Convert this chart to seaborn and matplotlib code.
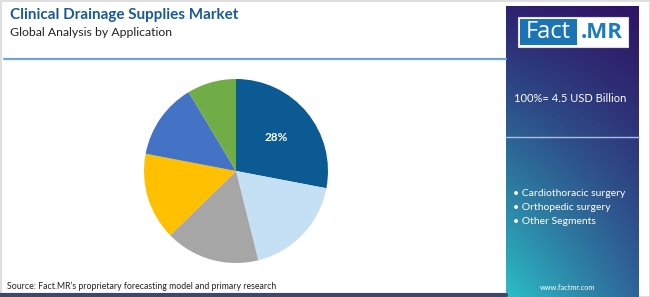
import numpy as np
import matplotlib
matplotlib.use("Agg")
import matplotlib.pyplot as plt
import seaborn as sns
from matplotlib.patches import Rectangle
from matplotlib.lines import Line2D

# ---- data ----
segments = ["Cardiothoracic surgery", "Orthopedic surgery", "Other Segments",
            "Segment D", "Segment E", "Segment F"]
shares = [28.0, 18.1, 16.6, 15.3, 13.4, 8.6]
slice_colors = ["#0b5a94", "#c5e0f4", "#a6a6a6", "#ffc000", "#4472c4", "#70ad47"]
legend_items = ["Cardiothoracic surgery", "Orthopedic surgery", "Other Segments"]
shown_labels = ["28%", "", "", "", "", ""]
title = "Clinical Drainage Supplies Market"
subtitle = "Global Analysis by Application"
market_size = "100%= 4.5 USD Billion"
source = "Source: Fact.MR\u2019s proprietary forecasting model and primary research"

sns.set_theme(style="white")
plt.rcParams["font.family"] = ["Lato", "DejaVu Sans"]

W, H = 650, 297
fig = plt.figure(figsize=(W / 100, H / 100), dpi=100)
fig.patch.set_facecolor("white")

def fx(x):
    return x / W

def fy(y):
    return 1 - y / H

# background overlay axes
bg = fig.add_axes([0, 0, 1, 1])
bg.set_xlim(0, W)
bg.set_ylim(H, 0)
bg.axis("off")

# figure border
bg.add_patch(Rectangle((0.5, 0.5), W - 1, H - 1, fill=False, ec="#d9d9d9", lw=1.2))

# gradient right panel
px0, px1, py0, py1 = 506, 639, 6, 297
c = lambda h: np.array(matplotlib.colors.to_rgb(h))
TL, TR, BL, BR = c("#2e2271"), c("#2f1464"), c("#2bbfc6"), c("#2f6499")
ny, nx = 200, 100
t = np.linspace(0, 1, ny)[:, None, None]
s = np.linspace(0, 1, nx)[None, :, None]
t2 = t ** 1.1
grad = (1 - t2) * ((1 - s) * TL + s * TR) + t2 * ((1 - s) * BL + s * BR)
bg.imshow(grad, extent=(px0, px1, py1, py0), aspect="auto", zorder=1)
bg.set_xlim(0, W)
bg.set_ylim(H, 0)

# header + footer lines
bg.add_line(Line2D([4, 506], [59, 59], color="#6aa6d8", lw=1.6, zorder=2))
bg.add_line(Line2D([0, 506], [294.5, 294.5], color="#3b4a66", lw=3, zorder=2))
bg.add_line(Line2D([506, 639], [137, 137], color="#a9bde6", lw=1.0, zorder=3))

# logo
bg.add_patch(Rectangle((518, 17), 110, 30, fc="white", ec="#dddddd", lw=0.8, zorder=3))
bg.add_patch(Rectangle((520, 19), 57, 26, fc="#1b75b5", ec="none", zorder=4))
bg.text(548.5, 32.5, "Fact", color="white", fontsize=17, ha="center", va="center",
        family=["Open Sans", "DejaVu Sans"], zorder=5)
bg.text(602, 32.5, ".MR", color="#1b7bc0", fontsize=16, fontweight="bold", ha="center",
        va="center", family=["Open Sans", "DejaVu Sans"], zorder=5)

# texts
bg.text(10, 15, title, color="#1a5a96", fontsize=11, fontweight="bold", va="center", zorder=5)
bg.text(10, 32, subtitle, color="#222222", fontsize=8.8, va="center", zorder=5)
bg.text(7, 286, source, color="#222222", fontsize=6.3, va="center", zorder=5)
bg.text(570, 99, market_size, color="white", fontsize=8.0, ha="center", va="center", zorder=5)
for i, item in enumerate(legend_items):
    bg.text(513, 193 + 14 * i, "\u2022 " + item, color="white", fontsize=7.5, va="center", zorder=5)
bg.text(568, 287, "www.factmr.com", color="white", fontsize=5.3, ha="center", va="center", zorder=5)

# pie
cx, cy, r = 236, 171, 92
ax = fig.add_axes([fx(cx - r), fy(cy + r), 2 * r / W, 2 * r / H])
wedges, texts = ax.pie(shares, colors=slice_colors, startangle=90, counterclock=False,
                       labels=shown_labels, labeldistance=0.57,
                       wedgeprops=dict(linewidth=0),
                       textprops=dict(color="white", fontsize=8.5, fontweight="bold",
                                      ha="center", va="center"))
ax.set_aspect("equal")
ax.set_xlim(-1, 1)
ax.set_ylim(-1, 1)
ax.axis("off")

fig.savefig("out.png", dpi=100, facecolor="white")
